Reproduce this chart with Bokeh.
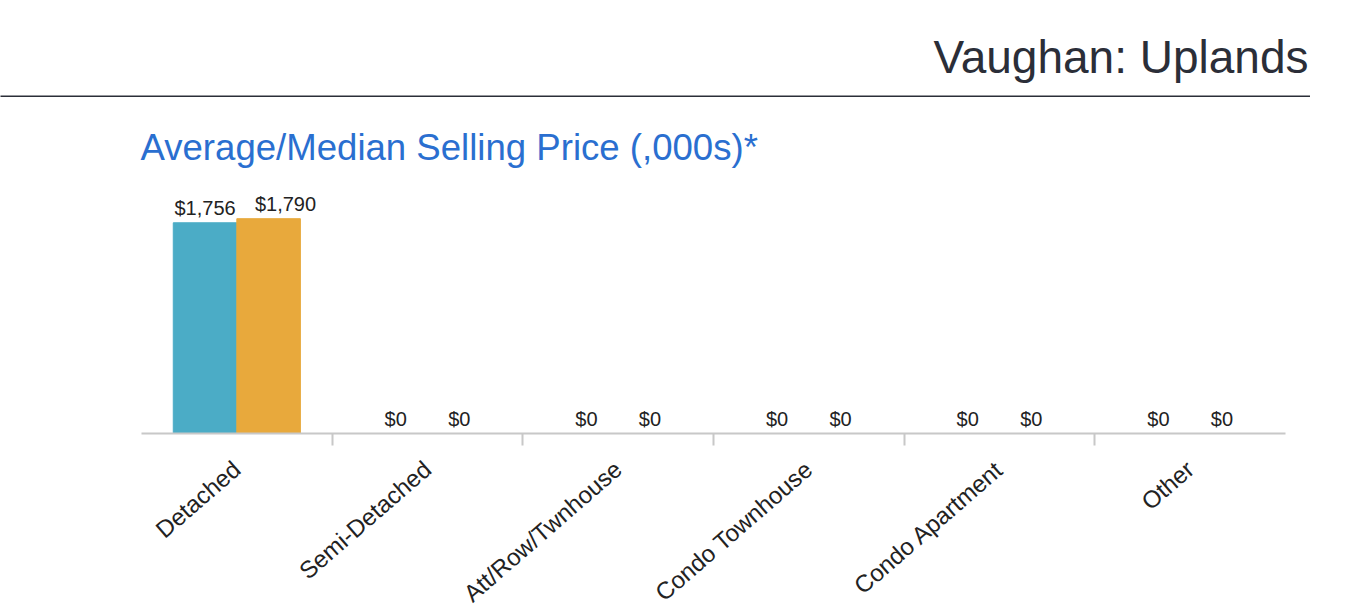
import math
import numpy as np
from bokeh.plotting import figure
from bokeh.models import ColumnDataSource, Range1d, LinearAxis, FixedTicker, Title
from bokeh.transform import dodge
from bokeh.embed import file_html
from bokeh.resources import INLINE
from bokeh.core.properties import value

# ---------------- data ----------------
region_title = "Vaughan: Uplands"
chart_title = "Average/Median Selling Price (,000s)*"
categories = ["Detached", "Semi-Detached", "Att/Row/Twnhouse",
              "Condo Townhouse", "Condo Apartment", "Other"]
average_price = [1756, 0, 0, 0, 0, 0]
median_price = [1790, 0, 0, 0, 0, 0]

# ---------------- style ----------------
FONT = "Liberation Sans"
DARK = "#2b2e38"
SUB_BLUE = "#2a6fd0"
BAR_BLUE = "#4bacc6"
BAR_ORANGE = "#e8a93c"
TEXT = "#222222"
AXIS_GREY = "#c8c8c8"

n = len(categories)
pos = np.arange(n) + 0.5
avg_lbl = [f"${v:,}" for v in average_price]
med_lbl = [f"${v:,}" for v in median_price]

# simple collision avoidance for the paired value labels (approximate widths)
BAR_W = 1 / 3
CAT_PX = 190.6
LBL_PX = 20
def est_w(s):
    return len(s) * 0.52 * LBL_PX
med_shift = []
for a, m in zip(avg_lbl, med_lbl):
    gap = BAR_W * CAT_PX - (est_w(a) + est_w(m)) / 2
    med_shift.append(max(0.0, 18 - gap) if gap < 10 else 0.0)

src = ColumnDataSource(dict(pos=pos, avg=average_price, med=median_price,
                            avg_lbl=avg_lbl, med_lbl=med_lbl, med_shift=med_shift))

# ---------------- header: title over a dark rule ----------------
head = figure(frame_width=1310, frame_height=2, title=region_title,
              output_backend="svg", toolbar_location=None,
              x_axis_location=None, y_axis_location=None,
              min_border_left=0, min_border_right=0,
              min_border_top=95, min_border_bottom=0)
head.title.align = "right"
head.title.text_font = FONT
head.title.text_font_size = "46px"
head.title.text_font_style = "normal"
head.title.text_color = DARK
head.title.standoff = 26
head.title.offset = 2
head.background_fill_color = DARK
head.border_fill_color = "white"
head.outline_line_color = None
head.grid.visible = False

# ---------------- chart ----------------
p = figure(frame_width=1144, frame_height=240,
           x_range=Range1d(0, n), y_range=Range1d(0, 2000),
           title=chart_title, output_backend="svg", toolbar_location=None,
           x_axis_location=None, y_axis_location=None,
           min_border_left=141, min_border_right=61,
           min_border_top=96, min_border_bottom=168)
p.title.text_font = FONT
p.title.text_font_size = "36.6px"
p.title.text_font_style = "normal"
p.title.text_color = SUB_BLUE
p.title.offset = -1
p.title.standoff = 51
p.outline_line_color = None
p.grid.visible = False

p.vbar(x=dodge("pos", -BAR_W / 2, range=p.x_range), top="avg", width=BAR_W,
       source=src, fill_color=BAR_BLUE, line_color=BAR_BLUE)
p.vbar(x=dodge("pos", BAR_W / 2, range=p.x_range), top="med", width=BAR_W,
       source=src, fill_color=BAR_ORANGE, line_color=BAR_ORANGE)

p.text(x=dodge("pos", -BAR_W / 2, range=p.x_range), y="avg", text="avg_lbl",
       source=src, text_align="center", text_baseline="alphabetic", y_offset=-15,
       text_font=value(FONT), text_font_size=value("20px"), text_color=TEXT)
p.text(x=dodge("pos", BAR_W / 2, range=p.x_range), y="med", text="med_lbl",
       source=src, text_align="center", text_baseline="alphabetic", y_offset=-15,
       x_offset="med_shift",
       text_font=value(FONT), text_font_size=value("20px"), text_color=TEXT)

xaxis = LinearAxis(ticker=FixedTicker(ticks=list(pos), minor_ticks=list(range(1, n))),
                   major_label_overrides={float(x): c for x, c in zip(pos, categories)})
xaxis.axis_line_color = AXIS_GREY
xaxis.axis_line_width = 2
xaxis.major_tick_line_color = None
xaxis.major_tick_out = 12
xaxis.major_tick_in = 0
xaxis.minor_tick_line_color = AXIS_GREY
xaxis.minor_tick_line_width = 2
xaxis.minor_tick_out = 12
xaxis.minor_tick_in = 0
xaxis.major_label_orientation = math.radians(41)
xaxis.major_label_standoff = 20
xaxis.major_label_text_font = FONT
xaxis.major_label_text_font_size = "24px"
xaxis.major_label_text_color = TEXT
p.add_layout(xaxis, "below")

open("out.html", "w").write(file_html([head, p], INLINE))
